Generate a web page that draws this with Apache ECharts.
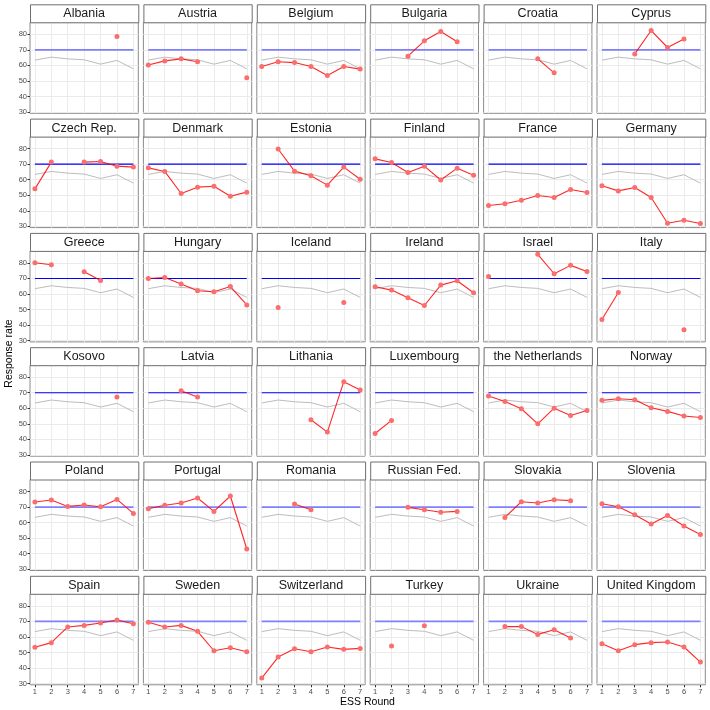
<!DOCTYPE html>
<html><head><meta charset="utf-8">
<script src="https://cdn.jsdelivr.net/npm/echarts@6/dist/echarts.min.js"></script>
<style>html,body{margin:0;padding:0;background:#fff}#c{width:710px;height:710px}</style>
</head><body><div id="c"></div>
<script>
const rounds = [1, 2, 3, 4, 5, 6, 7];
const yTicks = [30, 40, 50, 60, 70, 80];
const average = [63.4, 65.3, 64.2, 63.6, 60.8, 63.2, 57.8];
const target = [70, 70, 70, 70, 70, 70, 70];
const countries = ["Albania","Austria","Belgium","Bulgaria","Croatia","Cyprus",
  "Czech Rep.","Denmark","Estonia","Finland","France","Germany",
  "Greece","Hungary","Iceland","Ireland","Israel","Italy",
  "Kosovo","Latvia","Lithania","Luxembourg","the Netherlands","Norway",
  "Poland","Portugal","Romania","Russian Fed.","Slovakia","Slovenia",
  "Spain","Sweden","Switzerland","Turkey","Ukraine","United Kingdom"];
const albania = [null, null, null, null, null, 78.6, null];
const austria = [60.3, 62.9, 64.2, 62.3, null, null, 52.0];
const belgium = [59.3, 62.3, 61.8, 59.3, 53.5, 59.3, 57.6];
const bulgaria = [null, null, 65.9, 75.8, 81.8, 75.2, null];
const croatia = [null, null, null, 64.2, 55.2, null, null];
const cyprus = [null, null, 67.4, 82.4, 71.5, 76.9, null];
const czech = [54.1, 71.3, null, 71.3, 71.7, 68.7, 68.1];
const denmark = [67.6, 65.3, 51.1, 55.2, 55.8, 49.4, 52.0];
const estonia = [null, 79.7, 65.5, 62.5, 56.5, 68.1, 60.3];
const finland = [73.4, 71.1, 64.6, 68.7, 59.8, 67.4, 62.9];
const france = [43.4, 44.5, 46.8, 49.8, 48.5, 53.7, 51.8];
const germany = [56.1, 52.8, 55.0, 48.5, 32.0, 33.9, 31.8];
const greece = [80.1, 78.8, null, 74.3, 68.7, null, null];
const hungary = [70.0, 70.6, 66.4, 62.1, 61.4, 64.8, 53.0];
const iceland = [null, 51.3, null, null, null, 54.5, null];
const ireland = [64.6, 62.5, 57.6, 52.6, 65.7, 68.5, 60.8];
const israel = [71.3, null, null, 85.5, 73.0, 78.4, 74.5];
const italy = [43.6, 61.0, null, null, null, 37.0, null];
const kosovo = [null, null, null, null, null, 67.2, null];
const latvia = [null, null, 71.3, 67.2, null, null, null];
const lithania = [null, null, null, 52.6, 44.7, 77.1, 71.7];
const luxembourg = [43.8, 52.2, null, null, null, null, null];
const netherlands = [67.9, 64.4, 59.7, 50.0, 60.1, 55.4, 58.6];
const norway = [65.1, 66.1, 65.5, 60.3, 58.0, 55.0, 54.1];
const poland = [73.2, 74.5, 70.4, 71.3, 70.2, 74.9, 65.9];
const portugal = [68.9, 71.1, 72.6, 75.8, 67.2, 77.1, 43.0];
const romania = [null, null, 71.9, 68.3, null, null, null];
const russia = [null, null, 69.8, 68.3, 66.6, 67.2, null];
const slovakia = [null, 63.3, 73.4, 72.6, 74.7, 74.1, null];
const slovenia = [72.1, 70.2, 65.1, 59.1, 64.6, 57.8, 52.4];
const spain = [53.3, 56.3, 66.4, 67.4, 68.9, 70.9, 68.5];
const sweden = [69.4, 66.4, 67.4, 63.6, 51.1, 53.0, 50.5];
const switzerland = [33.5, 47.0, 52.4, 50.5, 53.5, 52.0, 52.6];
const turkey = [null, 54.1, null, 67.2, null, null, null];
const ukraine = [null, 66.6, 66.6, 61.6, 64.6, 59.3, null];
const uk = [55.6, 51.1, 55.0, 56.3, 56.7, 53.5, 43.8];
const countryRates = [albania, austria, belgium, bulgaria, croatia, cyprus,
  czech, denmark, estonia, finland, france, germany,
  greece, hungary, iceland, ireland, israel, italy,
  kosovo, latvia, lithania, luxembourg, netherlands, norway,
  poland, portugal, romania, russia, slovakia, slovenia,
  spain, sweden, switzerland, turkey, ukraine, uk];

const FONT = '"Liberation Sans", Arial, Helvetica, sans-serif';
const NCOL = 6, NROW = 6;
const X0 = 30, XSTEP = 113.4, PW = 108.3;
const Y0 = 22.3, YSTEP = 114.3, PH = 91, STRIP = 18;

const pairs = arr => rounds.map((r, i) => [r, arr[i] == null ? '-' : arr[i]]);

const grids = [], xAxes = [], yAxes = [], series = [], graphics = [];
countries.forEach((name, k) => {
  const r = Math.floor(k / NCOL), c = k % NCOL;
  const left = X0 + c * XSTEP, top = Y0 + r * YSTEP;
  grids.push({left: left, top: top, width: PW, height: PH, show: true,
    borderColor: '#8a8a8a', borderWidth: 1, backgroundColor: '#fff', containLabel: false});
  const showX = r === NROW - 1, showY = c === 0;
  xAxes.push({type: 'value', gridIndex: k, min: 0.7, max: 7.3, splitNumber: 6,
    axisLine: {show: false},
    axisTick: {show: showX, length: 2.5, lineStyle: {color: '#333'}, customValues: rounds},
    axisLabel: {show: showX, fontSize: 7.5, color: '#4d4d4d', fontFamily: FONT, margin: 3,
      customValues: rounds, formatter: v => String(v)},
    splitLine: {show: true, lineStyle: {color: '#ebebeb', width: 1}}
  });
  yAxes.push({type: 'value', gridIndex: k, min: 29.2, max: 87.7, splitNumber: 6,
    axisLine: {show: false},
    axisTick: {show: showY, length: 2.5, lineStyle: {color: '#333'}, customValues: yTicks},
    axisLabel: {show: showY, fontSize: 7.5, color: '#4d4d4d', fontFamily: FONT, margin: 3,
      customValues: yTicks, formatter: v => String(v)},
    splitLine: {show: true, lineStyle: {color: '#ebebeb', width: 1}}
  });
  series.push({type: 'line', xAxisIndex: k, yAxisIndex: k, data: pairs(average),
    showSymbol: false, silent: true, animation: false,
    lineStyle: {color: '#bdbdbd', width: 1}, z: 2});
  const light = (r === 0 || r === 4 || r === 5);
  series.push({type: 'line', xAxisIndex: k, yAxisIndex: k, data: pairs(target),
    showSymbol: false, silent: true, animation: false,
    lineStyle: {color: light ? '#8080ff' : '#0000ff', width: light ? 1.8 : 1.1}, z: 3});
  series.push({type: 'line', xAxisIndex: k, yAxisIndex: k, data: pairs(countryRates[k]),
    showSymbol: true, symbol: 'circle', symbolSize: 5, connectNulls: false, animation: false,
    lineStyle: {color: 'rgba(255,0,0,0.85)', width: 1.1},
    itemStyle: {color: 'rgba(250,110,110,1)', borderWidth: 0}, z: 4});
  graphics.push({type: 'rect', left: left, top: top - STRIP, z: 10,
    shape: {x: 0, y: 0, width: PW, height: STRIP},
    style: {fill: '#ffffff', stroke: '#6e6e6e', lineWidth: 1}});
  graphics.push({type: 'text', x: left + PW / 2, y: top - STRIP / 2 + 0.5, z: 11,
    style: {text: name, fill: '#1a1a1a', font: '12.5px ' + FONT, textAlign: 'center', textVerticalAlign: 'middle'}});
});
graphics.push({type: 'text', x: 9, y: 353.5, rotation: Math.PI / 2, z: 11,
  style: {text: 'Response rate', fill: '#000', font: '10.5px ' + FONT, textAlign: 'center', textVerticalAlign: 'middle'}});
graphics.push({type: 'text', x: 367.5, y: 702, z: 11,
  style: {text: 'ESS Round', fill: '#000', font: '10.5px ' + FONT, textAlign: 'center', textVerticalAlign: 'middle'}});

const chart = echarts.init(document.getElementById('c'), null, {renderer: 'canvas'});
chart.setOption({animation: false, backgroundColor: '#fff',
  grid: grids, xAxis: xAxes, yAxis: yAxes, series: series, graphic: graphics});
</script></body></html>
